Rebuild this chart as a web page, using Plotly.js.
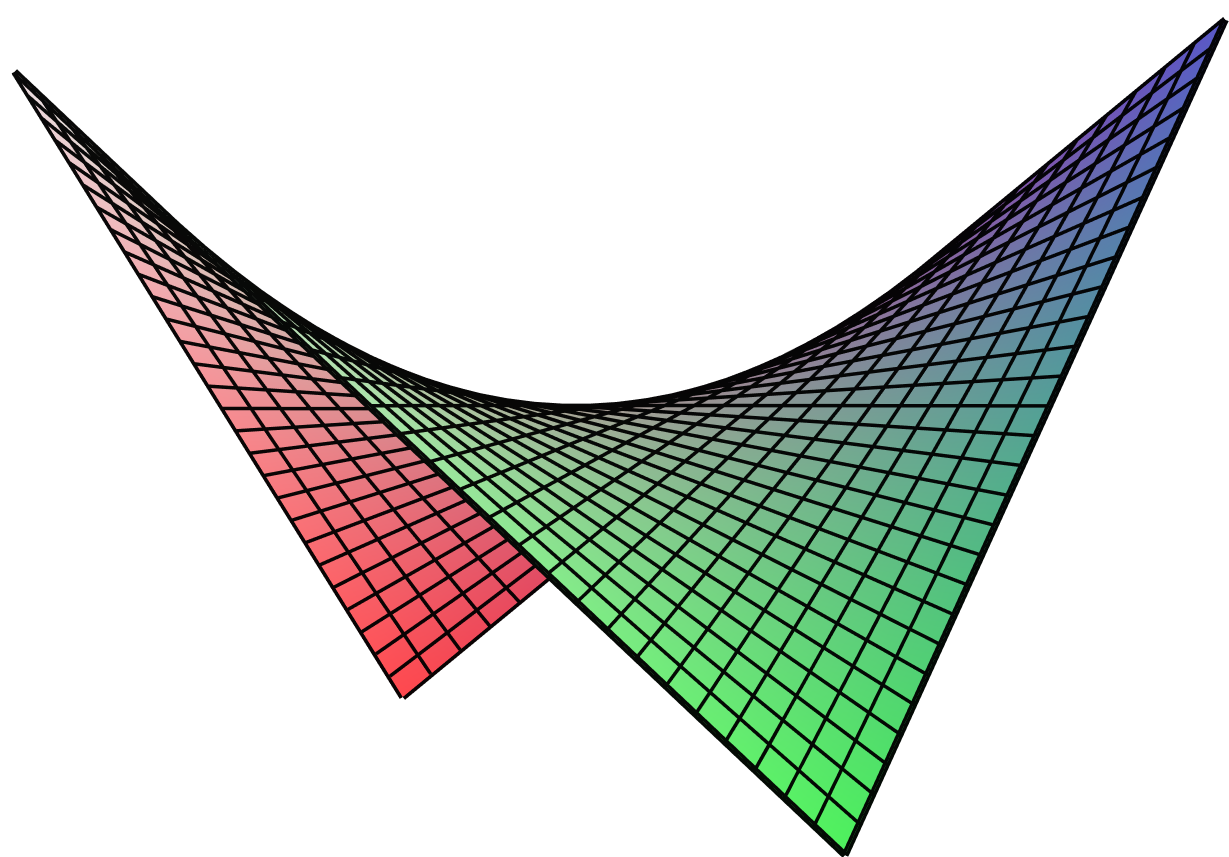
<!DOCTYPE html>
<html>
<head>
<meta charset="utf-8">
<script src="https://cdn.plot.ly/plotly-3.0.1.min.js"></script>
<style>html,body{margin:0;padding:0;background:#fff}#chart{width:1229px;height:857px}</style>
</head>
<body>
<div id="chart"></div>
<script>
var xValues = [-14,-13,-12,-11,-10,-9,-8,-7,-6,-5,-4,-3,-2,-1,0,1,2,3,4,5,6,7,8,9,10,11,12,13,14];
var yValues = [-14,-13,-12,-11,-10,-9,-8,-7,-6,-5,-4,-3,-2,-1,0,1,2,3,4,5,6,7,8,9,10,11,12,13,14];
var zValues = [
[-196,-182,-168,-154,-140,-126,-112,-98,-84,-70,-56,-42,-28,-14,0,14,28,42,56,70,84,98,112,126,140,154,168,182,196],
[-182,-169,-156,-143,-130,-117,-104,-91,-78,-65,-52,-39,-26,-13,0,13,26,39,52,65,78,91,104,117,130,143,156,169,182],
[-168,-156,-144,-132,-120,-108,-96,-84,-72,-60,-48,-36,-24,-12,0,12,24,36,48,60,72,84,96,108,120,132,144,156,168],
[-154,-143,-132,-121,-110,-99,-88,-77,-66,-55,-44,-33,-22,-11,0,11,22,33,44,55,66,77,88,99,110,121,132,143,154],
[-140,-130,-120,-110,-100,-90,-80,-70,-60,-50,-40,-30,-20,-10,0,10,20,30,40,50,60,70,80,90,100,110,120,130,140],
[-126,-117,-108,-99,-90,-81,-72,-63,-54,-45,-36,-27,-18,-9,0,9,18,27,36,45,54,63,72,81,90,99,108,117,126],
[-112,-104,-96,-88,-80,-72,-64,-56,-48,-40,-32,-24,-16,-8,0,8,16,24,32,40,48,56,64,72,80,88,96,104,112],
[-98,-91,-84,-77,-70,-63,-56,-49,-42,-35,-28,-21,-14,-7,0,7,14,21,28,35,42,49,56,63,70,77,84,91,98],
[-84,-78,-72,-66,-60,-54,-48,-42,-36,-30,-24,-18,-12,-6,0,6,12,18,24,30,36,42,48,54,60,66,72,78,84],
[-70,-65,-60,-55,-50,-45,-40,-35,-30,-25,-20,-15,-10,-5,0,5,10,15,20,25,30,35,40,45,50,55,60,65,70],
[-56,-52,-48,-44,-40,-36,-32,-28,-24,-20,-16,-12,-8,-4,0,4,8,12,16,20,24,28,32,36,40,44,48,52,56],
[-42,-39,-36,-33,-30,-27,-24,-21,-18,-15,-12,-9,-6,-3,0,3,6,9,12,15,18,21,24,27,30,33,36,39,42],
[-28,-26,-24,-22,-20,-18,-16,-14,-12,-10,-8,-6,-4,-2,0,2,4,6,8,10,12,14,16,18,20,22,24,26,28],
[-14,-13,-12,-11,-10,-9,-8,-7,-6,-5,-4,-3,-2,-1,0,1,2,3,4,5,6,7,8,9,10,11,12,13,14],
[0,0,0,0,0,0,0,0,0,0,0,0,0,0,0,0,0,0,0,0,0,0,0,0,0,0,0,0,0],
[14,13,12,11,10,9,8,7,6,5,4,3,2,1,0,-1,-2,-3,-4,-5,-6,-7,-8,-9,-10,-11,-12,-13,-14],
[28,26,24,22,20,18,16,14,12,10,8,6,4,2,0,-2,-4,-6,-8,-10,-12,-14,-16,-18,-20,-22,-24,-26,-28],
[42,39,36,33,30,27,24,21,18,15,12,9,6,3,0,-3,-6,-9,-12,-15,-18,-21,-24,-27,-30,-33,-36,-39,-42],
[56,52,48,44,40,36,32,28,24,20,16,12,8,4,0,-4,-8,-12,-16,-20,-24,-28,-32,-36,-40,-44,-48,-52,-56],
[70,65,60,55,50,45,40,35,30,25,20,15,10,5,0,-5,-10,-15,-20,-25,-30,-35,-40,-45,-50,-55,-60,-65,-70],
[84,78,72,66,60,54,48,42,36,30,24,18,12,6,0,-6,-12,-18,-24,-30,-36,-42,-48,-54,-60,-66,-72,-78,-84],
[98,91,84,77,70,63,56,49,42,35,28,21,14,7,0,-7,-14,-21,-28,-35,-42,-49,-56,-63,-70,-77,-84,-91,-98],
[112,104,96,88,80,72,64,56,48,40,32,24,16,8,0,-8,-16,-24,-32,-40,-48,-56,-64,-72,-80,-88,-96,-104,-112],
[126,117,108,99,90,81,72,63,54,45,36,27,18,9,0,-9,-18,-27,-36,-45,-54,-63,-72,-81,-90,-99,-108,-117,-126],
[140,130,120,110,100,90,80,70,60,50,40,30,20,10,0,-10,-20,-30,-40,-50,-60,-70,-80,-90,-100,-110,-120,-130,-140],
[154,143,132,121,110,99,88,77,66,55,44,33,22,11,0,-11,-22,-33,-44,-55,-66,-77,-88,-99,-110,-121,-132,-143,-154],
[168,156,144,132,120,108,96,84,72,60,48,36,24,12,0,-12,-24,-36,-48,-60,-72,-84,-96,-108,-120,-132,-144,-156,-168],
[182,169,156,143,130,117,104,91,78,65,52,39,26,13,0,-13,-26,-39,-52,-65,-78,-91,-104,-117,-130,-143,-156,-169,-182],
[196,182,168,154,140,126,112,98,84,70,56,42,28,14,0,-14,-28,-42,-56,-70,-84,-98,-112,-126,-140,-154,-168,-182,-196]
];
// corner colours: [x low, y low], [x high, y low], [x low, y high], [x high, y high]
var cornerRed = [255,72,78];
var cornerPale = [236,222,226];
var cornerBlue = [88,88,200];
var cornerGreen = [78,242,92];

var nx = xValues.length, ny = yValues.length;
var vx = [], vy = [], vz = [], vc = [], fi = [], fj = [], fk = [];
function mix(a, b, t) { return a + (b - a) * t; }
function rgbAt(c, r, f) {
  var u = c / (nx - 1), v = r / (ny - 1), col = [];
  for (var q = 0; q < 3; q++) {
    col.push(Math.round(f * mix(mix(cornerRed[q], cornerPale[q], u), mix(cornerBlue[q], cornerGreen[q], u), v)));
  }
  return 'rgb(' + col.join(',') + ')';
}
for (var r = 0; r < ny; r++) {
  for (var c = 0; c < nx; c++) {
    vx.push(xValues[c]); vy.push(yValues[r]); vz.push(zValues[r][c]);
    vc.push(rgbAt(c, r, 1));
  }
}
for (r = 0; r < ny - 1; r++) {
  for (c = 0; c < nx - 1; c++) {
    var a = r * nx + c, b = a + 1, d = a + nx, e = d + 1;
    fi.push(a, a); fj.push(b, e); fk.push(e, d);
  }
}
var lx = [], ly = [], lz = [], lc = [];
for (r = 0; r < ny; r++) {
  for (c = 0; c < nx; c++) { lx.push(xValues[c]); ly.push(yValues[r]); lz.push(zValues[r][c]); lc.push(rgbAt(c, r, 0.04)); }
  lx.push(null); ly.push(null); lz.push(null); lc.push('rgb(0,0,0)');
}
for (c = 0; c < nx; c++) {
  for (r = 0; r < ny; r++) { lx.push(xValues[c]); ly.push(yValues[r]); lz.push(zValues[r][c]); lc.push(rgbAt(c, r, 0.04)); }
  lx.push(null); ly.push(null); lz.push(null); lc.push('rgb(0,0,0)');
}
var surface = {
  type: 'mesh3d', x: vx, y: vy, z: vz, i: fi, j: fj, k: fk, vertexcolor: vc,
  lighting: {ambient: 1, diffuse: 0, specular: 0, roughness: 1, fresnel: 0},
  flatshading: false, hoverinfo: 'skip', showscale: false
};
var grid = {
  type: 'scatter3d', mode: 'lines', x: lx, y: ly, z: lz,
  line: {color: lc, width: 14}, hoverinfo: 'skip', showlegend: false, connectgaps: false
};
var hidden = {visible: false, showgrid: false, zeroline: false, showticklabels: false, showspikes: false};
var layout = {
  width: 1229, height: 857, margin: {l: 0, r: 0, t: 0, b: 0}, paper_bgcolor: '#fff', showlegend: false,
  scene: {
    domain: {x: [0, 1], y: [0, 1]},
    bgcolor: '#fff',
    aspectmode: 'manual', aspectratio: {x: 1.976, y: 2.165, z: 1.721},
    xaxis: Object.assign({range: [-14, 14]}, hidden),
    yaxis: Object.assign({range: [-14, 14]}, hidden),
    zaxis: Object.assign({range: [-196, 196]}, hidden),
    camera: {
      projection: {type: 'orthographic'},
      eye: {x: 2.6601, y: 1.3378, z: 0.369},
      up: {x: -0.1241, y: -0.0572, z: 0.9907},
      center: {x: 0.01294, y: -0.01309, z: -0.0405}
    }
  }
};
Plotly.newPlot('chart', [surface, grid], layout, {displayModeBar: false, staticPlot: false});
</script>
</body>
</html>
